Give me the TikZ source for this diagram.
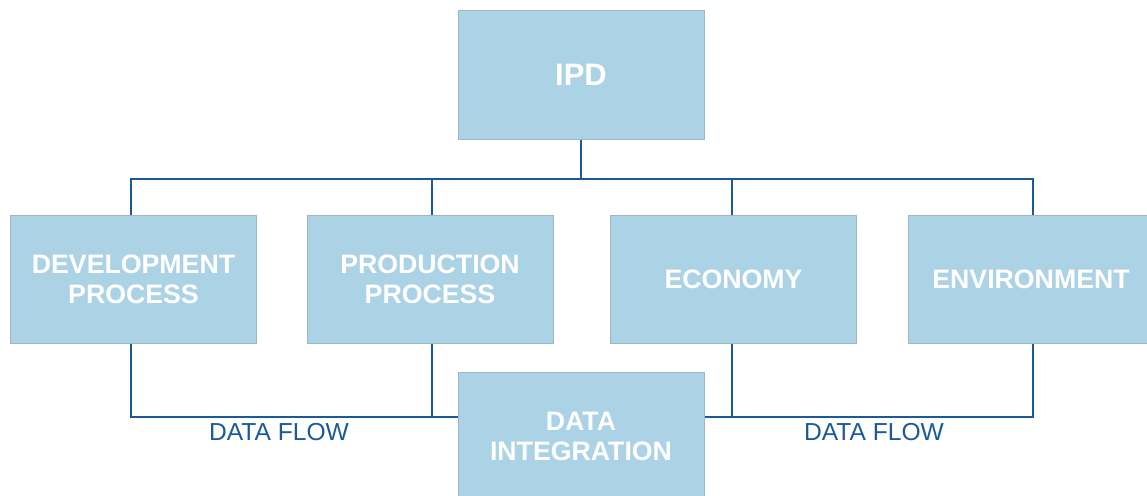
\documentclass[tikz,border=0pt]{standalone}
\usepackage{fontspec}
\setmainfont{Liberation Sans}
\definecolor{boxfill}{HTML}{ACD3E5}
\definecolor{boxline}{HTML}{9FB6C5}
\definecolor{wire}{HTML}{1B5A9A}
\begin{document}
\begin{tikzpicture}[x=1pt,y=-1pt,
  box/.style={draw=boxline,line width=1pt,fill=boxfill,minimum width=246pt,minimum height=128pt,
    inner sep=0pt,text=white,font=\bfseries\fontsize{26.7}{30}\selectfont,align=center},
  wireline/.style={draw=wire,line width=2.6pt},
  flowlabel/.style={text=wire,font=\fontsize{24.6}{28}\selectfont,inner sep=0pt}]
\useasboundingbox (0,0) rectangle (1147,495);
\node[box,font=\bfseries\fontsize{31}{36}\selectfont] (ipd) at (581,75) {IPD};
\node[box] (dev) at (133.5,279) {DEVELOPMENT\\PROCESS};
\node[box] (prod) at (430,279) {PRODUCTION\\PROCESS};
\node[box] (eco) at (733.5,279) {ECONOMY};
\node[box] (env) at (1031,279) {ENVIRONMENT};
\node[box] (dat) at (581,436) {DATA\\INTEGRATION};
\node[flowlabel] (fl1) at (279,432) {DATA FLOW};
\node[flowlabel] (fl2) at (874,432) {DATA FLOW};
% top tree
\coordinate (bus) at (581,179);
\draw[wireline] (ipd.south) -- (bus);
\draw[wireline] ([xshift=-2.5pt]dev.north) |- (bus) -| ([xshift=2pt]env.north);
\draw[wireline] ([xshift=2pt]prod.north) -- ([xshift=2pt]prod.north |- bus);
\draw[wireline] ([xshift=-1.5pt]eco.north) -- ([xshift=-1.5pt]eco.north |- bus);
% bottom data flow
\coordinate (low) at (581,417);
\draw[wireline] ([xshift=-2.5pt]dev.south) |- (dat.west |- low);
\draw[wireline] ([xshift=2pt]prod.south) -- ([xshift=2pt]prod.south |- low);
\draw[wireline] ([xshift=2pt]env.south) |- (dat.east |- low);
\draw[wireline] ([xshift=-1.5pt]eco.south) -- ([xshift=-1.5pt]eco.south |- low);
\end{tikzpicture}
\end{document}
